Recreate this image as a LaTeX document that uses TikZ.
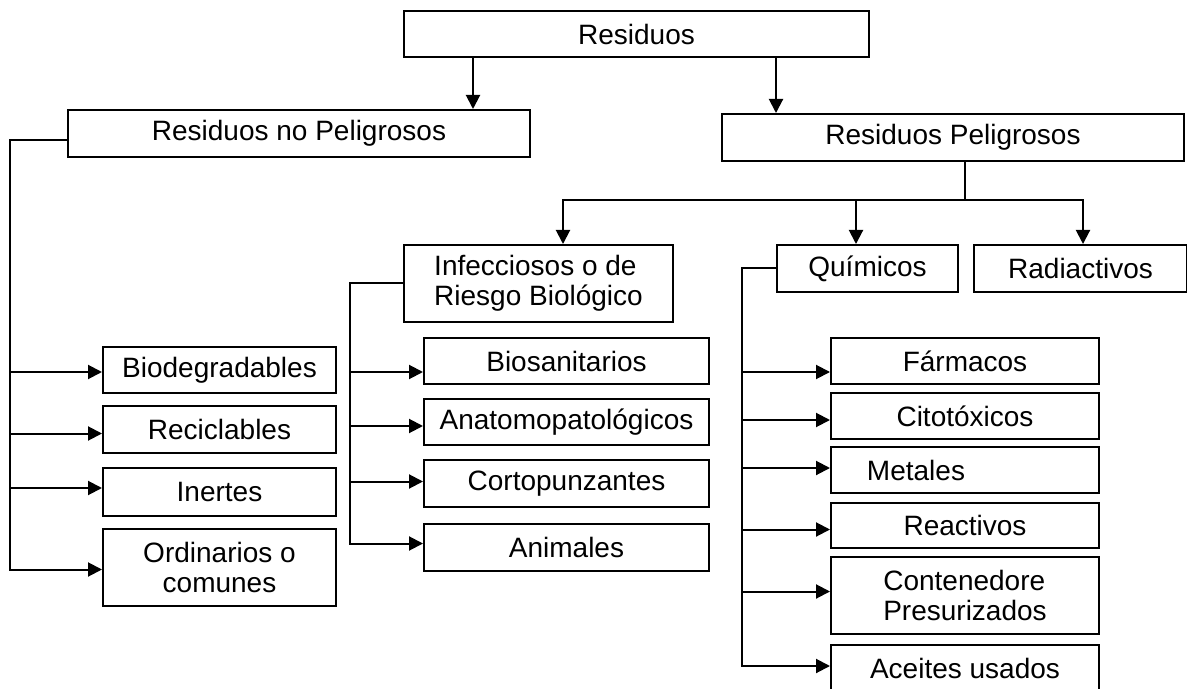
\documentclass[tikz,border=0pt]{standalone}
\usepackage{fontspec}
\setmainfont{Liberation Sans}
\usetikzlibrary{arrows.meta}

\begin{document}
\begin{tikzpicture}[x=0.5pt,y=-0.5pt,
  caja/.style 2 args={draw,line width=1pt,anchor=north west,
    minimum width=#1*0.5pt,minimum height=#2*0.5pt,
    font=\fontsize{14}{15}\selectfont},
  flecha/.style={line width=1pt,line cap=rect,-{Triangle[length=7pt,width=7pt]}},
  linea/.style={line width=1pt,line cap=rect}]
\useasboundingbox (0,0) rectangle (1187,689);
\node[caja={465}{46}] (res) at (403,10) {Residuos};
\node[caja={462}{47}] (rnp) at (67,109) {Residuos no Peligrosos};
\node[caja={462}{47}] (rp) at (721,113) {Residuos Peligrosos};
\node[caja={269}{77},align=left] (inf) at (403,244) {Infecciosos o de\\Riesgo Biológico};
\node[caja={181}{47}] (qui) at (776,244) {Químicos};
\node[caja={213}{47}] (rad) at (973,244) {Radiactivos};
\node[caja={233}{46}] (bio) at (102,346) {Biodegradables};
\node[caja={233}{47}] (rec) at (102,405) {Reciclables};
\node[caja={233}{48}] (ine) at (102,467) {Inertes};
\node[caja={233}{77},align=center] (ord) at (102,528) {Ordinarios o\\comunes};
\node[caja={285}{46}] (bsa) at (423,337) {Biosanitarios};
\node[caja={285}{46}] (ana) at (423,398) {Anatomopatológicos};
\node[caja={285}{47}] (cor) at (423,459) {Cortopunzantes};
\node[caja={285}{47}] (ani) at (423,523) {Animales};
\node[caja={268}{46}] (far) at (830,337) {Fármacos};
\node[caja={268}{46}] (cit) at (830,392) {Citotóxicos};
\node[caja={268}{46}] (met) at (830,446) {Metales\hspace*{49pt}};
\node[caja={268}{45}] (rea) at (830,502) {Reactivos};
\node[caja={268}{77},align=left] (con) at (830,556) {Contenedore\\Presurizados};
\node[caja={268}{46}] (ace) at (830,644) {Aceites usados};

\coordinate (ka) at (473,0);
\coordinate (kb) at (776,0);
\coordinate (bus) at (965,200);
\coordinate (kc) at (563,0);
\coordinate (kd) at (856,0);
\coordinate (ke) at (1083,0);
\coordinate (tl) at (10,0);
\coordinate (tm) at (350,0);
\coordinate (tr) at (742,0);

\draw[flecha] (res.south -| ka) -- (rnp.north -| ka);
\draw[flecha] (res.south -| kb) -- (rp.north -| kb);
\draw[linea] (rp.south -| bus) -- (bus);
\draw[flecha] (bus) -| (inf.north -| kc);
\draw[flecha] (bus) -| (qui.north -| kd);
\draw[flecha] (bus) -| (rad.north -| ke);

\draw[linea] ([yshift=-3.5pt]rnp.west) -| ([yshift=-1pt]tl |- ord.west);
\foreach \n/\d in {bio/2,rec/4,ine/-4,ord/2}
  \draw[flecha] ([yshift=-\d*0.5pt]tl |- \n.west) -- ([yshift=-\d*0.5pt]\n.west);
\draw[linea] (inf.west) -| ([yshift=2pt]tm |- ani.west);
\foreach \n/\d in {bsa/11,ana/4,cor/-2,ani/-4}
  \draw[flecha] ([yshift=-\d*0.5pt]tm |- \n.west) -- ([yshift=-\d*0.5pt]\n.west);
\draw[linea] (qui.west) -| ([yshift=1pt]tr |- ace.west);
\foreach \n/\d in {far/11,cit/4,met/-2,rea/4,con/-4,ace/-2}
  \draw[flecha] ([yshift=-\d*0.5pt]tr |- \n.west) -- ([yshift=-\d*0.5pt]\n.west);
\end{tikzpicture}
\end{document}
